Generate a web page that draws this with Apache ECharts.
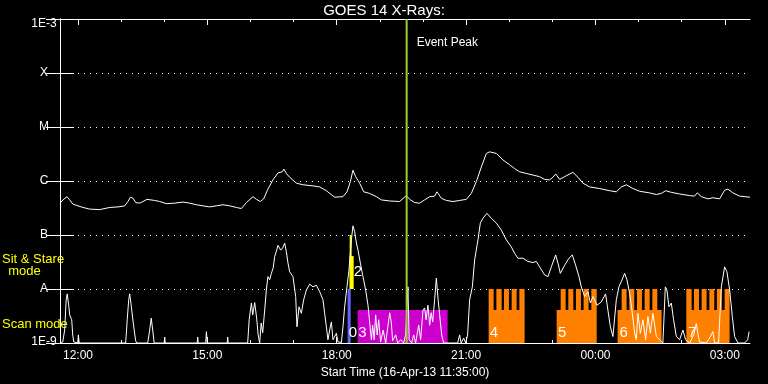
<!DOCTYPE html>
<html><head><meta charset="utf-8">
<script src="https://cdn.jsdelivr.net/npm/echarts@6.0.0/dist/echarts.min.js"></script>
<style>html,body{margin:0;padding:0;background:#000;}#c{width:768px;height:384px;}</style>
</head><body><div id="c"></div>
<script>
// Time: minutes after start (16-Apr-13 11:35:00). Flux: log10(W/m^2).
const titleText = 'GOES 14 X-Rays:';
const startLabel = 'Start Time (16-Apr-13 11:35:00)';
const startMinuteOfDay = 695;
const majorTickMinutes = [25, 205, 385, 565, 745, 925];
const minorTickMinutes = [85, 145, 265, 325, 445, 505, 625, 685, 805, 865];
const levelLabels = ['1E-9', 'A', 'B', 'C', 'M', 'X', '1E-3'];

const longChannel = [[0,-6.41],[4.2,-6.35],[9.7,-6.29],[13.5,-6.35],[18.1,-6.43],[25,-6.46],[32,-6.49],[41.3,-6.52],[55.2,-6.53],[69.1,-6.49],
[80.7,-6.48],[90,-6.46],[94.6,-6.38],[97.9,-6.30],[101.6,-6.32],[105.3,-6.40],[110.9,-6.41],[115.5,-6.38],[121,-6.34],[131.7,-6.36],
[138.7,-6.38],[148,-6.42],[159.6,-6.41],[171.1,-6.39],[180.4,-6.41],[189.7,-6.44],[198.9,-6.46],[208.2,-6.48],[217.6,-6.46],[226.8,-6.44],
[236.1,-6.46],[245.4,-6.49],[252.3,-6.51],[259.3,-6.40],[268.5,-6.29],[273.2,-6.34],[278.8,-6.38],[283.4,-6.33],[289.3,-6.15],[296.3,-5.98],
[303.3,-5.85],[309.4,-5.83],[311.6,-5.78],[314.9,-5.86],[319.5,-5.93],[328.9,-6.04],[338,-6.07],[352,-6.09],[361.3,-6.11],[370.6,-6.18],
[382.1,-6.30],[393.7,-6.29],[399.3,-6.20],[404,-6.01],[407.6,-5.80],[411.4,-5.92],[416.9,-6.04],[422.5,-6.20],[430.8,-6.23],[440.2,-6.29],
[447.1,-6.35],[458.7,-6.37],[472.6,-6.38],[481.9,-6.27],[486.5,-6.34],[493.4,-6.40],[500.4,-6.41],[507.3,-6.35],[514.3,-6.29],[521.2,-6.28],
[524.4,-6.20],[530.6,-6.32],[537.5,-6.36],[546.7,-6.38],[556,-6.36],[565.3,-6.34],[572.3,-6.23],[579.3,-6.01],[586.2,-5.74],[593.2,-5.49],
[597.8,-5.46],[607.1,-5.49],[616.3,-5.61],[625.6,-5.70],[632.5,-5.77],[639.5,-5.83],[648.8,-5.86],[658,-5.89],[667.3,-5.92],[674.3,-5.97],
[681.2,-5.98],[685.8,-5.93],[689.6,-5.87],[695.1,-5.97],[702.1,-5.92],[713.6,-5.84],[720.6,-5.93],[727.5,-6.04],[736.9,-6.11],[750.8,-6.14],
[764.7,-6.18],[774,-6.20],[781,-6.11],[787.9,-6.07],[797.1,-6.14],[806.4,-6.19],[820.3,-6.22],[829.7,-6.25],[836.6,-6.23],[842.6,-6.18],
[850.5,-6.21],[862.1,-6.24],[876,-6.27],[882.9,-6.28],[886.7,-6.22],[892.3,-6.29],[901.4,-6.33],[908.4,-6.31],[917.7,-6.33],[924.7,-6.17],
[929.3,-6.15],[936.2,-6.22],[945.5,-6.28],[960,-6.30]];

const shortChannel = [[0,-9],[3.8,-8.98],[6.5,-8.76],[8.6,-8.2],[10,-8.09],[12.1,-8.3],[13.5,-8.48],[16.3,-8.57],[17.7,-8.85],[19.1,-8.98],[24.6,-9],[25.6,-8.85],[26.7,-9],
[91.4,-9],[93.5,-8.57],[95.6,-8.2],[97,-8.09],[99,-8.3],[101.1,-8.54],[103.2,-8.76],[105.3,-8.96],[106.7,-9],[122,-9],[124.8,-8.76],[126.9,-8.54],[129,-8.76],[131,-9],
[145,-9],[145.7,-8.89],[146.4,-9],[190.9,-9],[191.6,-8.89],[192.3,-9],[202.7,-9],[203.7,-8.79],[204.8,-9],[232.6,-9],[233.3,-8.89],[234,-9],
[261.1,-9],[263.2,-8.57],[266.3,-8.26],[268.1,-8.48],[270.9,-8.25],[273.6,-8.54],[275.7,-8.85],[277.8,-9],[279.9,-8.63],[282,-8.81],[284.8,-8.39],[287.1,-8.02],
[289.3,-7.77],[291.7,-7.83],[294.1,-7.71],[296.6,-7.61],[298.7,-7.4],[301.5,-7.28],[303.3,-7.19],[307,-7.28],[309.8,-7.24],[312.6,-7.15],[314.9,-7.31],[317.2,-7.52],
[319.5,-7.68],[324.1,-7.77],[327.9,-8.14],[329.7,-8.7],[332.5,-8.33],[335.8,-8.45],[339,-8.2],[342.8,-8.02],[347.4,-7.91],[352,-7.96],[356.7,-7.93],[361.3,-8.05],
[365.9,-8.2],[368.2,-8.45],[370.6,-8.7],[372.8,-8.94],[375.2,-8.76],[377.5,-8.61],[379.8,-8.94],[384.5,-8.82],[386.7,-8.98],[391.5,-8.99],[393.7,-8.7],[396,-8.33],
[399.3,-7.96],[402,-7.65],[405.4,-7.09],[407.6,-6.83],[410,-6.94],[412.4,-7.15],[414.6,-7.28],[417.9,-7.52],[421.5,-7.77],[425.3,-8.02],[428.5,-8.3],[430.8,-8.33],
[433.2,-8.94],[435,-8.67],[437.1,-8.94],[439.2,-8.48],[441.3,-8.85],[443.4,-8.57],[446.1,-8.98],[449.6,-8.76],[453.1,-9],[455.9,-8.72],[458.7,-8.44],[461,-8.63],
[462.8,-8.96],[467,-8.85],[469.8,-9],[474,-8.94],[478.1,-9],[480.9,-8.85],[484.1,-7.96],[485.8,-8.94],[489.3,-9],[492,-8.85],[494.8,-9],[499,-8.67],[501.8,-8.94],
[505,-8.39],[507.3,-8.35],[509.4,-8.57],[511.9,-8.3],[514.3,-8.67],[516.4,-8.44],[518.5,-8.61],[521.2,-8.2],[523.6,-7.8],[526.1,-8.2],[528.2,-8.48],[531,-8.85],
[533.8,-9],[553.3,-9],[556,-8.85],[558.1,-9],[561.6,-8.91],[564.4,-9],[567.1,-8.85],[569.9,-8.2],[573.7,-7.96],[576.9,-7.46],[581.5,-7.09],[584.8,-6.78],
[588.4,-6.69],[594,-6.6],[600.1,-6.69],[607.1,-6.78],[614,-6.91],[621,-7.09],[627.9,-7.22],[632.5,-7.34],[637.1,-7.43],[639.5,-7.46],[644.1,-7.43],[651,-7.49],
[658,-7.51],[662.7,-7.49],[667.3,-7.59],[674.3,-7.74],[678.9,-7.77],[683.6,-7.59],[689.6,-7.37],[692.8,-7.52],[696.1,-7.71],[702.1,-7.56],[708.1,-7.43],[712.8,-7.37],
[717.4,-7.56],[722,-7.77],[725.3,-7.96],[729.9,-8.14],[734.5,-8.05],[737.9,-8.26],[741.5,-8.14],[747,-8.3],[753.1,-8.24],[759.1,-8.09],[762.3,-8.39],[765.7,-8.7],
[769.3,-8.88],[774,-8.2],[777.6,-7.96],[781,-7.86],[785.6,-7.71],[788.8,-7.83],[792.5,-8.08],[796.3,-8.45],[799.5,-8.82],[801.8,-8.94],[804.1,-8.45],[807.4,-8.82],
[811,-8.57],[814.8,-8.94],[818,-8.51],[821.3,-8.82],[824.9,-8.45],[829.7,-8.88],[834.2,-8.94],[838.8,-9],[842.2,-7.96],[844.4,-8.02],[847.2,-8.33],[850.5,-8.26],
[853.7,-8.57],[857.5,-8.88],[862.1,-8.94],[866.7,-8.76],[870.4,-8.94],[876,-9],[881.6,-8.85],[885.3,-8.64],[887.8,-8.85],[889.9,-8.98],[899.2,-9],[903.8,-8.91],
[908.4,-8.79],[910.8,-9],[916.3,-9],[920.1,-7.96],[924.7,-7.59],[927.9,-7.68],[931.7,-8.02],[935.4,-8.51],[938.6,-8.88],[943.2,-9],[952.5,-9],[956.7,-8.94],[958.8,-8.79]];

// Observing-mode blocks: [startMinute, endMinute, lowLog, highLog]
const blueBlocks = [[400.2, 404.4, -9, -8]];
const yellowBlocks = [[403.0, 405.8, -8, -7], [403.0, 408.6, -8, -7.39]];
const magentaBlocks = [[414.1, 539.3, -9, -8.39]];
const orangeBlocks = [
  [596.4, 646.4, -9, -8.39], [596.4, 603.3, -8.39, -8], [607.1, 614.5, -8.39, -8], [617.7, 624.6, -8.39, -8], [628.4, 635.3, -8.39, -8], [639.1, 646.4, -8.39, -8],
  [691.0, 746.7, -9, -8.39], [696.6, 703.5, -8.39, -8], [707.2, 714.2, -8.39, -8], [717.8, 724.8, -8.39, -8], [728.5, 735.4, -8.39, -8], [739.2, 746.7, -8.39, -8],
  [775.8, 837.0, -9, -8.39], [781.4, 788.3, -8.39, -8], [792.1, 799.0, -8.39, -8], [802.7, 809.7, -8.39, -8], [813.4, 820.4, -8.39, -8], [824.1, 831.0, -8.39, -8],
  [871.4, 931.6, -9, -8.39], [871.4, 878.8, -8.39, -8], [882.0, 889.0, -8.39, -8], [892.7, 899.6, -8.39, -8], [903.4, 910.3, -8.39, -8], [913.9, 920.9, -8.39, -8], [924.7, 931.6, -8.39, -8]
];
const blockLabels = [[401.6, -8.81, '0'], [415.1, -8.81, '3'], [408.6, -7.69, '2'], [597.8, -8.82, '4'], [692.8, -8.82, '5'], [778.6, -8.82, '6'], [873.6, -8.82, '7']];
const eventPeak = [[482.3, -3.44, 'Event Peak']];

const FONT = 'Liberation Sans';
function clock(m) {
  const t = Math.round(startMinuteOfDay + m);
  const h = Math.floor(t / 60) % 24, mm = t % 60;
  return String(h).padStart(2, '0') + ':' + String(mm).padStart(2, '0');
}
function rectSeries(data, color, z) {
  return {
    type: 'custom', data: data, z: z, silent: true, animation: false,
    encode: { x: [0, 1], y: [2, 3] },
    renderItem: function (params, api) {
      const a = api.coord([api.value(0), api.value(3)]);
      const b = api.coord([api.value(1), api.value(2)]);
      return { type: 'rect', shape: { x: a[0], y: a[1], width: b[0] - a[0], height: b[1] - a[1] }, style: { fill: color } };
    }
  };
}
const chart = echarts.init(document.getElementById('c'), null, { renderer: 'canvas' });
const xBase = { type: 'value', min: 0, max: 960, splitLine: { show: false }, gridIndex: 0 };
const yBase = { type: 'value', min: -9, max: -3, interval: 1, gridIndex: 0 };
chart.setOption({
  backgroundColor: '#000',
  animation: false,
  title: { text: titleText, left: 'center', top: -2, textStyle: { color: '#fff', fontSize: 15, fontWeight: 'normal', fontFamily: FONT } },
  grid: { left: 60, top: 19, width: 690, height: 324 },
  xAxis: [
    Object.assign({}, xBase, {
      position: 'bottom',
      axisLine: { show: true, lineStyle: { color: '#fff', width: 1 } },
      axisTick: { show: true, inside: true, length: 6, customValues: majorTickMinutes, lineStyle: { color: '#fff' } },
      axisLabel: { show: true, customValues: majorTickMinutes, formatter: clock, color: '#fff', fontSize: 12, fontFamily: FONT, margin: 7 },
      name: startLabel, nameLocation: 'middle', nameGap: 19,
      nameTextStyle: { color: '#fff', fontSize: 12, fontFamily: FONT, verticalAlign: 'top' }
    }),
    Object.assign({}, xBase, {
      position: 'bottom', axisLine: { show: false },
      axisTick: { show: true, inside: true, length: 3, customValues: minorTickMinutes, lineStyle: { color: '#fff' } },
      axisLabel: { show: false }
    }),
    Object.assign({}, xBase, {
      position: 'top',
      axisLine: { show: true, lineStyle: { color: '#fff', width: 1 } },
      axisTick: { show: true, inside: true, length: 6, customValues: majorTickMinutes, lineStyle: { color: '#fff' } },
      axisLabel: { show: false }
    }),
    Object.assign({}, xBase, {
      position: 'top', axisLine: { show: false },
      axisTick: { show: true, inside: true, length: 3, customValues: minorTickMinutes, lineStyle: { color: '#fff' } },
      axisLabel: { show: false }
    })
  ],
  yAxis: [
    Object.assign({}, yBase, {
      position: 'left',
      axisLine: { show: true, lineStyle: { color: '#fff', width: 1 } },
      axisTick: { show: true, inside: true, length: 14, lineStyle: { color: '#fff' } },
      splitLine: { show: true, lineStyle: { color: '#fff', width: 1, type: [1, 5] } },
      axisLabel: {
        show: true, color: '#fff', fontSize: 12, fontFamily: FONT, align: 'center', margin: 16,
        formatter: function (v) {
          const k = Math.round(v);
          const t = levelLabels[k + 9];
          if (k === -3) return '{hi|' + t + '}';
          if (k === -9) return '{lo|' + t + '}';
          return t;
        },
        rich: {
          hi: { color: '#fff', fontSize: 12, fontFamily: FONT, lineHeight: 21, verticalAlign: 'bottom' },
          lo: { color: '#fff', fontSize: 12, fontFamily: FONT, lineHeight: 15, verticalAlign: 'top' }
        }
      }
    }),
    Object.assign({}, yBase, {
      position: 'right',
      axisLine: { show: true, lineStyle: { color: '#fff', width: 1 } },
      axisTick: { show: true, inside: true, length: 14, lineStyle: { color: '#fff' } },
      splitLine: { show: false },
      axisLabel: { show: false }
    })
  ],
  graphic: [
    { type: 'text', x: 2, y: 259, style: { text: 'Sit & Stare', fill: '#ffff00', font: '13px ' + FONT, verticalAlign: 'middle', align: 'left' } },
    { type: 'text', x: 24.5, y: 271, style: { text: 'mode', fill: '#ffff00', font: '13px ' + FONT, verticalAlign: 'middle', align: 'center' } },
    { type: 'text', x: 2, y: 324, style: { text: 'Scan mode', fill: '#ffff00', font: '13px ' + FONT, verticalAlign: 'middle', align: 'left' } }
  ],
  series: [
    rectSeries(blueBlocks, '#6464ff', 1),
    rectSeries(yellowBlocks, '#ffff00', 1),
    rectSeries(magentaBlocks, '#cc00cc', 1),
    rectSeries(orangeBlocks, '#ff8000', 1),
    { type: 'line', data: longChannel, showSymbol: false, symbol: 'none', z: 3, silent: true,
      lineStyle: { color: '#fff', width: 1 } },
    { type: 'line', data: shortChannel, showSymbol: false, symbol: 'none', z: 3, silent: true,
      lineStyle: { color: '#fff', width: 1 } },
    { type: 'custom', data: blockLabels, z: 4, silent: true, encode: { x: 0, y: 1 },
      renderItem: function (params, api) {
        const c = api.coord([api.value(0), api.value(1)]);
        return { type: 'text', x: c[0], y: c[1], style: { text: blockLabels[params.dataIndex][2], fill: '#fff', font: '15px ' + FONT, align: 'left', verticalAlign: 'middle' } };
      } },
    { type: 'custom', data: eventPeak, z: 5, silent: true, encode: { x: 0, y: 1 },
      renderItem: function (params, api) {
        const top = api.coord([api.value(0), -3]);
        const bot = api.coord([api.value(0), -9]);
        const t = api.coord([api.value(0), api.value(1)]);
        return { type: 'group', children: [
          { type: 'line', shape: { x1: top[0], y1: top[1], x2: bot[0], y2: bot[1] }, style: { stroke: '#9acd32', lineWidth: 2 } },
          { type: 'text', x: t[0] + 10, y: t[1], style: { text: eventPeak[params.dataIndex][2], fill: '#fff', font: '12px ' + FONT, align: 'left', verticalAlign: 'middle' } }
        ] };
      } }
  ]
});
</script></body></html>
